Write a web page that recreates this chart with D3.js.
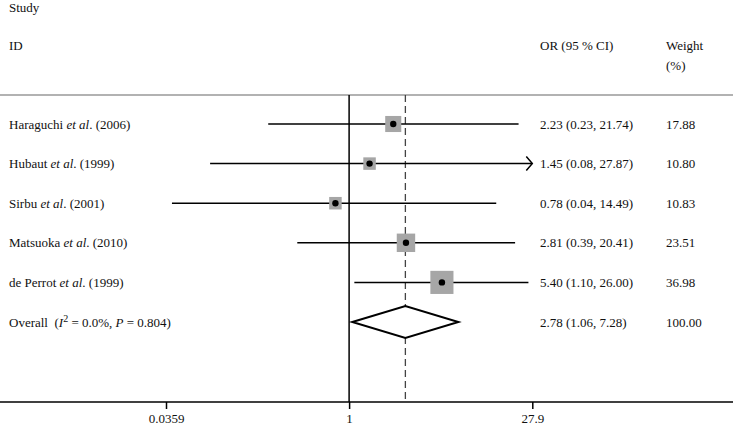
<!DOCTYPE html>
<html>
<head>
<meta charset="utf-8">
<script src="https://cdn.jsdelivr.net/npm/d3@7"></script>
<style>
  body { margin: 0; background: #fff; }
  svg text { font-family: "Liberation Serif", "Times New Roman", serif; font-size: 13px; fill: #111; }
</style>
</head>
<body>
<script>
"use strict";

// study data
const authors = ["Haraguchi", "Hubaut", "Sirbu", "Matsuoka", "de Perrot"];
const years = ["2006", "1999", "2001", "2010", "1999"];
const orValues = [2.23, 1.45, 0.78, 2.81, 5.40];
const ciLow = [0.23, 0.08, 0.04, 0.39, 1.10];
const ciHigh = [21.74, 27.87, 14.49, 20.41, 26.00];
const weights = [17.88, 10.80, 10.83, 23.51, 36.98];

const overall = { or: 2.78, lo: 1.06, hi: 7.28, weight: 100.00, i2: "0.0%", p: "0.804" };

const tickValues = [0.0359, 1, 27.9];
const tickLabels = ["0.0359", "1", "27.9"];

const width = 733, height = 426;
const headerY = 95, axisY = 402;

const svg = d3.select("body").append("svg")
    .attr("width", width)
    .attr("height", height);

const x = d3.scaleLog()
    .domain([tickValues[0], tickValues[2]])
    .range([166, 532.3]);

// rows: 5 studies + overall
const y = d3.scalePoint()
    .domain(d3.range(authors.length + 1))
    .range([124, 322]);

const fmt = d3.format(".2f");

// header
svg.append("text").attr("x", 9).attr("y", 12).text("Study");
svg.append("text").attr("x", 9).attr("y", 50).text("ID");
svg.append("text").attr("x", 540).attr("y", 50).text("OR (95 % CI)");
svg.append("text").attr("x", 666).attr("y", 50).text("Weight");
svg.append("text").attr("x", 666).attr("y", 70).text("(%)");

svg.append("line")
    .attr("x1", 0).attr("x2", width)
    .attr("y1", headerY).attr("y2", headerY)
    .attr("stroke", "#999").attr("stroke-width", 1.5);

// null line and overall dashed line
svg.append("line")
    .attr("x1", x(1)).attr("x2", x(1))
    .attr("y1", headerY).attr("y2", axisY)
    .attr("stroke", "#000").attr("stroke-width", 1.5);

svg.append("line")
    .attr("x1", x(overall.or)).attr("x2", x(overall.or))
    .attr("y1", headerY).attr("y2", axisY)
    .attr("stroke", "#444").attr("stroke-width", 1.3)
    .attr("stroke-dasharray", "7,4");

// studies
const xMax = x.domain()[1];
authors.forEach(function(a, i) {
    const cy = y(i);
    const hiClip = Math.min(ciHigh[i], xMax);
    svg.append("line")
        .attr("x1", x(ciLow[i])).attr("x2", x(hiClip))
        .attr("y1", cy).attr("y2", cy)
        .attr("stroke", "#000").attr("stroke-width", 1.5);

    if (ciHigh[i] >= xMax * 0.995) {
        const ax = x(xMax);
        svg.append("path")
            .attr("d", d3.line()([[ax - 6, cy - 7], [ax, cy], [ax - 6, cy + 7]]))
            .attr("fill", "none").attr("stroke", "#000").attr("stroke-width", 1.5);
    }

    const side = 3.8 * Math.sqrt(weights[i]);
    svg.append("rect")
        .attr("x", x(orValues[i]) - side / 2)
        .attr("y", cy - side / 2)
        .attr("width", side).attr("height", side)
        .attr("fill", "#a6a6a6");

    svg.append("circle")
        .attr("cx", x(orValues[i])).attr("cy", cy)
        .attr("r", 3.2).attr("fill", "#000");

    const label = svg.append("text").attr("x", 9).attr("y", cy + 4.5);
    label.append("tspan").text(a + " ");
    label.append("tspan").attr("font-style", "italic").text("et al");
    label.append("tspan").text(". (" + years[i] + ")");

    svg.append("text").attr("x", 540).attr("y", cy + 4.5)
        .text(fmt(orValues[i]) + " (" + fmt(ciLow[i]) + ", " + fmt(ciHigh[i]) + ")");
    svg.append("text").attr("x", 666).attr("y", cy + 4.5).text(fmt(weights[i]));
});

// overall diamond
const oy = y(authors.length);
svg.append("path")
    .attr("d", d3.line()([
        [x(overall.lo), oy], [x(overall.or), oy - 16],
        [x(overall.hi), oy], [x(overall.or), oy + 16]
    ]) + "Z")
    .attr("fill", "#fff").attr("stroke", "#000").attr("stroke-width", 2);

const ol = svg.append("text").attr("x", 9).attr("y", oy + 4.5).attr("xml:space", "preserve");
ol.append("tspan").text("Overall  (");
ol.append("tspan").attr("font-style", "italic").text("I");
ol.append("tspan").attr("dy", -5).attr("font-size", "10px").text("2");
ol.append("tspan").attr("dy", 5).text(" = " + overall.i2 + ", ");
ol.append("tspan").attr("font-style", "italic").text("P");
ol.append("tspan").text(" = " + overall.p + ")");

svg.append("text").attr("x", 540).attr("y", oy + 4.5)
    .text(fmt(overall.or) + " (" + fmt(overall.lo) + ", " + fmt(overall.hi) + ")");
svg.append("text").attr("x", 666).attr("y", oy + 4.5).text(fmt(overall.weight));

// x axis
svg.append("line")
    .attr("x1", 0).attr("x2", width)
    .attr("y1", axisY).attr("y2", axisY)
    .attr("stroke", "#000").attr("stroke-width", 1.5);

const axis = svg.append("g")
    .attr("transform", "translate(0," + axisY + ")")
    .call(d3.axisBottom(x)
        .tickValues(tickValues)
        .tickFormat((d, i) => tickLabels[i])
        .tickSize(7)
        .tickPadding(5));

axis.select(".domain").remove();
axis.selectAll(".tick line").attr("stroke", "#000").attr("stroke-width", 1.5);
axis.selectAll(".tick text")
    .attr("font-family", "Liberation Serif, serif")
    .attr("font-size", "13px")
    .attr("fill", "#111");
</script>
</body>
</html>
